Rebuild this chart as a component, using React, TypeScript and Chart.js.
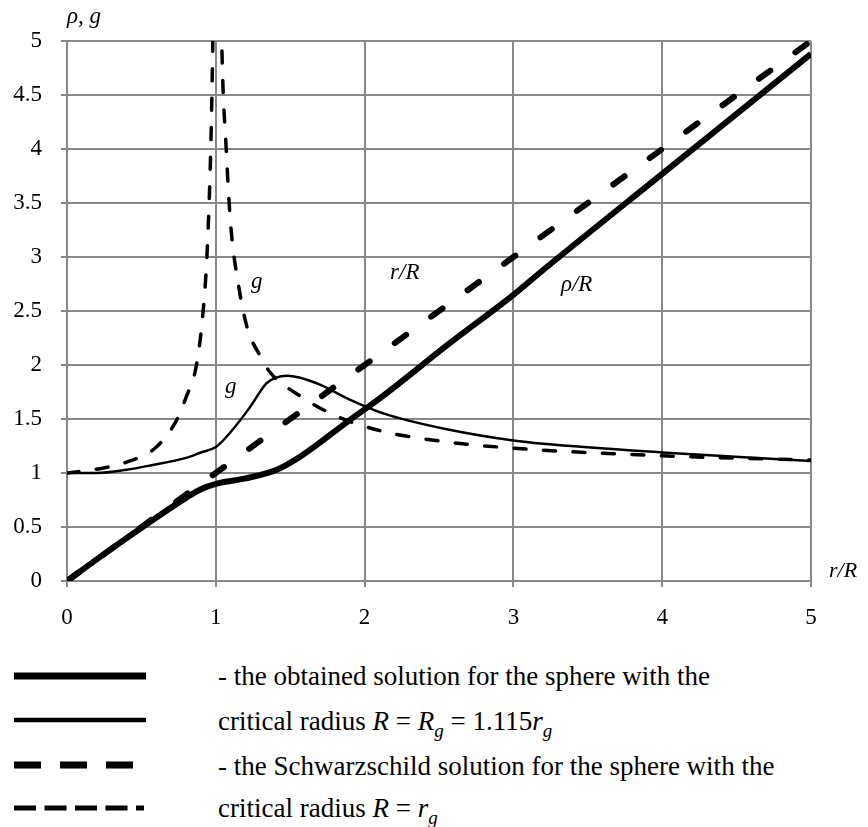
import React, { useEffect, useRef } from "react";
import { Chart, registerables } from "chart.js";

Chart.register(...registerables);

// ---- data ----
const xTickValues = [0, 1, 2, 3, 4, 5];
const yTickStep = 0.5;

// thick solid: rho/R, obtained solution
const rhoObtainedX = [0, 0.3, 0.55, 0.8, 0.9, 1, 1.2, 1.41, 1.566, 1.9, 2.12, 2.57, 3, 3.2, 4, 5];
const rhoObtainedY = [0, 0.3, 0.54, 0.77, 0.85, 0.9, 0.95, 1.03, 1.15, 1.49, 1.71, 2.2, 2.65, 2.88, 3.77, 4.88];

// thin solid: g, obtained solution
const gObtainedX = [0, 0.2, 0.4, 0.56, 0.8, 0.9, 1, 1.1, 1.23, 1.34, 1.4, 1.48, 1.68, 1.9, 2.13, 2.57, 3, 3.2, 4, 5];
const gObtainedY = [1, 1, 1.03, 1.07, 1.14, 1.19, 1.24, 1.38, 1.61, 1.83, 1.88, 1.9, 1.83, 1.68, 1.55, 1.4, 1.3, 1.27, 1.19, 1.11];

// thick dashed: r/R, Schwarzschild
const rhoSchwX = [0, 1, 2, 3, 4, 5];
const rhoSchwY = [0, 1, 2, 3, 4, 5];

// thin dashed: g, Schwarzschild (gap at r/R = 1)
const gSchwX = [0, 0.22, 0.4, 0.6, 0.737, 0.8, 0.87, 0.915, 0.94, 0.966, 0.98, 0.99, 1.0, 1.03, 1.04, 1.07, 1.1, 1.15, 1.21, 1.3, 1.36, 1.57, 1.79, 2.08, 2.48, 3, 4, 5];
const gSchwY = [1, 1.04, 1.1, 1.24, 1.49, 1.7, 2.0, 2.5, 3, 4, 5, 6, null, 6, 5, 4, 3.3, 2.76, 2.35, 2.08, 1.94, 1.71, 1.54, 1.4, 1.3, 1.23, 1.16, 1.12];

// in-plot labels
const annotationTexts = ["g", "r/R", "ρ/R", "g"];
const annotationX = [1.275, 2.27, 3.425, 1.1];
const annotationY = [2.77, 2.85, 2.74, 1.8];

const yAxisTitle = "ρ, g";
const xAxisTitle = "r/R";

const SERIF = '"Liberation Serif", "Times New Roman", serif';
const GRID = "#888888";

function pts(xs: number[], ys: (number | null)[]) {
  return xs.map((x, i) => ({ x, y: ys[i] }));
}

const labelsPlugin = {
  id: "labelsPlugin",
  afterDraw(chart: any) {
    const ctx = chart.ctx;
    const xs = chart.scales.x;
    const ys = chart.scales.y;
    const area = chart.chartArea;
    ctx.save();
    ctx.fillStyle = "#000";
    ctx.font = `italic 23px ${SERIF}`;
    ctx.textAlign = "center";
    ctx.textBaseline = "middle";
    annotationTexts.forEach((t, i) => {
      ctx.fillText(t, xs.getPixelForValue(annotationX[i]), ys.getPixelForValue(annotationY[i]));
    });
    ctx.textAlign = "left";
    ctx.fillText(yAxisTitle, area.left + 0, area.top - 24);
    ctx.font = `italic 22px ${SERIF}`;
    ctx.fillText(xAxisTitle, area.right + 18, area.bottom - 10);
    ctx.restore();
  },
};

function ChartCanvas() {
  const ref = useRef<HTMLCanvasElement | null>(null);
  useEffect(() => {
    if (!ref.current) return;
    const tickFont = { family: SERIF, size: 23 };
    const chart = new Chart(ref.current, {
      type: "line",
      data: {
        datasets: [
          {
            data: pts(rhoObtainedX, rhoObtainedY),
            borderColor: "#000",
            borderWidth: 6,
            cubicInterpolationMode: "monotone",
            pointRadius: 0,
            fill: false,
          },
          {
            data: pts(gObtainedX, gObtainedY),
            borderColor: "#000",
            borderWidth: 2.5,
            cubicInterpolationMode: "monotone",
            pointRadius: 0,
            fill: false,
          },
          {
            data: pts(rhoSchwX, rhoSchwY),
            borderColor: "#000",
            borderWidth: 6,
            borderDash: [14, 31],
            borderCapStyle: "round",
            tension: 0,
            pointRadius: 0,
            fill: false,
          },
          {
            data: pts(gSchwX, gSchwY),
            borderColor: "#000",
            borderWidth: 3.5,
            borderDash: [12, 17.5],
            borderCapStyle: "round",
            cubicInterpolationMode: "monotone",
            spanGaps: false,
            pointRadius: 0,
            fill: false,
          },
        ],
      } as any,
      options: {
        responsive: false,
        animation: false,
        layout: { padding: { top: 41, right: 57, left: 0, bottom: 0 } },
        plugins: { legend: { display: false }, tooltip: { enabled: false } },
        elements: { point: { radius: 0 } },
        scales: {
          x: {
            type: "linear",
            min: xTickValues[0],
            max: xTickValues[xTickValues.length - 1],
            afterBuildTicks: (s: any) => {
              s.ticks = xTickValues.map((v) => ({ value: v }));
            },
            ticks: {
              stepSize: 1,
              padding: 17,
              color: "#000",
              font: tickFont,
              maxRotation: 0,
              autoSkip: false,
              callback: (v: any) => String(Number(v)),
            },
            grid: { color: GRID, lineWidth: 2, tickLength: 6 },
            border: { color: GRID, width: 2 },
            afterFit: (s: any) => {
              s.height = 59;
            },
          },
          y: {
            type: "linear",
            min: 0,
            max: 5,
            ticks: {
              stepSize: yTickStep,
              padding: 19,
              color: "#000",
              font: tickFont,
              autoSkip: false,
              callback: (v: any) => String(Number(v)),
            },
            grid: { color: GRID, lineWidth: 2, tickLength: 6 },
            border: { color: GRID, width: 2 },
            afterFit: (s: any) => {
              s.width = 67;
            },
          },
        },
      } as any,
      plugins: [labelsPlugin],
    });
    return () => chart.destroy();
  }, []);
  return <canvas ref={ref} width={868} height={640} style={{ display: "block", width: 868, height: 640 }} />;
}

function Legend() {
  const textStyle = { fontFamily: SERIF, fontSize: 27 };
  const sub = { fontSize: 19 } as any;
  return (
    <svg width={868} height={187} style={{ position: "absolute", left: 0, top: 640 }}>
      <line x1={14} x2={146} y1={36} y2={36} stroke="#000" strokeWidth={7} />
      <line x1={14} x2={146} y1={80} y2={80} stroke="#000" strokeWidth={4.5} />
      <line x1={14} x2={133} y1={125} y2={125} stroke="#000" strokeWidth={7} strokeDasharray="27 19" />
      <line x1={14} x2={144} y1={168} y2={168} stroke="#000" strokeWidth={5} strokeDasharray="22 8.5" />
      <text x={218} y={45} style={textStyle}>- the obtained solution for the sphere with the</text>
      <text x={218} y={90} style={textStyle}>
        critical radius <tspan fontStyle="italic">R</tspan> = <tspan fontStyle="italic">R</tspan>
        <tspan fontStyle="italic" dy={7} style={sub}>g</tspan>
        <tspan dy={-7}> = 1.115</tspan>
        <tspan fontStyle="italic">r</tspan>
        <tspan fontStyle="italic" dy={7} style={sub}>g</tspan>
      </text>
      <text x={218} y={135} style={textStyle}>- the Schwarzschild solution for the sphere with the</text>
      <text x={218} y={177} style={textStyle}>
        critical radius <tspan fontStyle="italic">R</tspan> = <tspan fontStyle="italic">r</tspan>
        <tspan fontStyle="italic" dy={7} style={sub}>g</tspan>
      </text>
    </svg>
  );
}

export default function App() {
  return (
    <div style={{ position: "absolute", left: 0, top: 0, width: 868, height: 827, background: "#fff" }}>
      <div style={{ position: "absolute", left: 0, top: 0 }}>
        <ChartCanvas />
      </div>
      <Legend />
    </div>
  );
}
